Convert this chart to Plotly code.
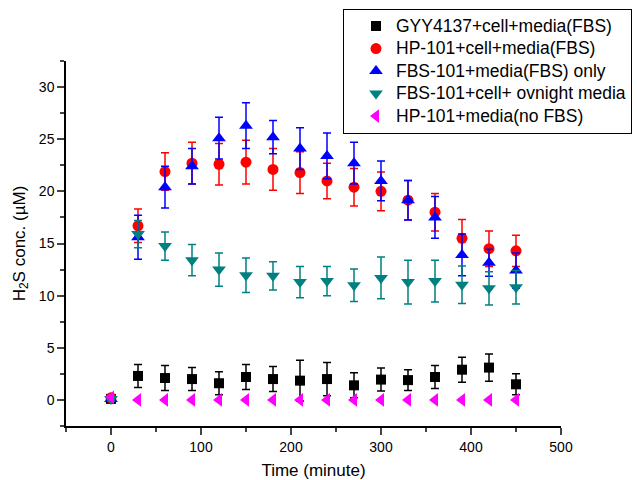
import plotly.graph_objects as go

time = [0, 30, 60, 90, 120, 150, 180, 210, 240, 270, 300, 330, 360, 390, 420, 450]

gyy = [0.1, 2.3, 2.1, 2.0, 1.6, 2.2, 2.0, 1.85, 2.0, 1.4, 1.95, 1.9, 2.2, 2.9, 3.1, 1.5]
gyy_err = [0.2, 1.1, 1.2, 1.1, 1.1, 1.2, 1.2, 1.95, 1.6, 1.2, 1.1, 1.0, 1.1, 1.2, 1.3, 1.0]

hp_cell = [0.2, 16.7, 21.9, 22.7, 22.6, 22.8, 22.1, 21.8, 21.0, 20.4, 20.0, 19.15, 18.0, 15.5, 14.5, 14.3]
hp_cell_err = [0.2, 1.6, 1.8, 2.0, 2.0, 2.1, 2.0, 2.0, 1.7, 1.8, 1.85, 1.9, 1.8, 1.8, 1.7, 1.5]

fbs_only = [0.1, 15.6, 20.4, 22.4, 25.1, 26.3, 25.2, 24.1, 23.4, 22.7, 21.0, 19.15, 17.5, 13.9, 13.15, 12.4]
fbs_only_err = [0.2, 2.1, 2.0, 1.7, 2.0, 2.2, 1.6, 2.0, 2.2, 2.0, 1.9, 1.9, 2.0, 2.0, 1.3, 1.7]

fbs_cell = [0.1, 15.9, 14.75, 13.4, 12.5, 11.95, 11.9, 11.3, 11.4, 11.0, 11.7, 11.3, 11.4, 11.05, 10.7, 10.8]
fbs_cell_err = [0.2, 1.3, 1.35, 1.5, 1.6, 1.65, 1.35, 1.5, 1.4, 1.55, 2.0, 2.1, 2.0, 1.8, 1.6, 1.6]

hp_nofbs = [0.25, 0, 0, 0, 0, 0, 0, 0, 0, 0, 0, 0, 0, 0, 0, 0]

series = [
    ("GYY4137+cell+media(FBS)", gyy, gyy_err, "#000000", "square", 10),
    ("HP-101+cell+media(FBS)", hp_cell, hp_cell_err, "#ff0000", "circle", 11),
    ("FBS-101+media(FBS) only", fbs_only, fbs_only_err, "#0000ff", "triangle-up", 12),
    ("FBS-101+cell+ ovnight media", fbs_cell, fbs_cell_err, "#008080", "triangle-down", 12),
    ("HP-101+media(no FBS)", hp_nofbs, None, "#ff00ff", "triangle-left", 12),
]

fig = go.Figure()
for name, ys, errs, color, sym, size in series:
    kw = {}
    if errs is not None:
        kw["error_y"] = dict(type="data", array=errs, visible=True, color=color,
                             thickness=1.5, width=4)
    fig.add_trace(go.Scatter(
        x=time, y=ys, mode="markers",
        name='<span style="font-size:17.5px">' + name + '</span>',
        marker=dict(symbol=sym, color=color, size=size, line=dict(width=0)),
        **kw))

font_family = "Liberation Sans, Arial, sans-serif"
fig.update_layout(
    width=637, height=480,
    margin=dict(l=66, r=76, t=61, b=54, autoexpand=False),
    plot_bgcolor="white", paper_bgcolor="white",
    font=dict(family=font_family, size=14, color="black"),
    showlegend=True,
    legend=dict(x=0.5596, y=1.143, xanchor="left", yanchor="top",
                bordercolor="black", borderwidth=1, bgcolor="white",
                font=dict(size=15), indentation=12, tracegroupgap=0),
    xaxis=dict(range=[-50, 500], tick0=0, dtick=100, ticks="outside", ticklen=7,
               tickwidth=1.5, showline=True, linecolor="black", linewidth=1.5,
               showgrid=False, zeroline=False, automargin=True,
               minor=dict(tick0=0, dtick=50, ticks="outside", ticklen=4, tickwidth=1.5),
               title=dict(text="Time (minute)", font=dict(size=17), standoff=20)),
    yaxis=dict(range=[-2.5, 32.5], tick0=0, dtick=5, ticks="outside", ticklen=7,
               tickwidth=1.5, showline=True, linecolor="black", linewidth=1.5,
               showgrid=False, zeroline=False, automargin=False,
               minor=dict(tick0=0, dtick=2.5, ticks="outside", ticklen=4, tickwidth=1.5),
               title=dict(text="H<sub>2</sub>S conc. (\u00b5M)", font=dict(size=17), standoff=9)),
)

fig.write_html("out.html",
               config={"displayModeBar": False},
               post_script="document.body.style.margin='0';document.body.style.padding='0';")
